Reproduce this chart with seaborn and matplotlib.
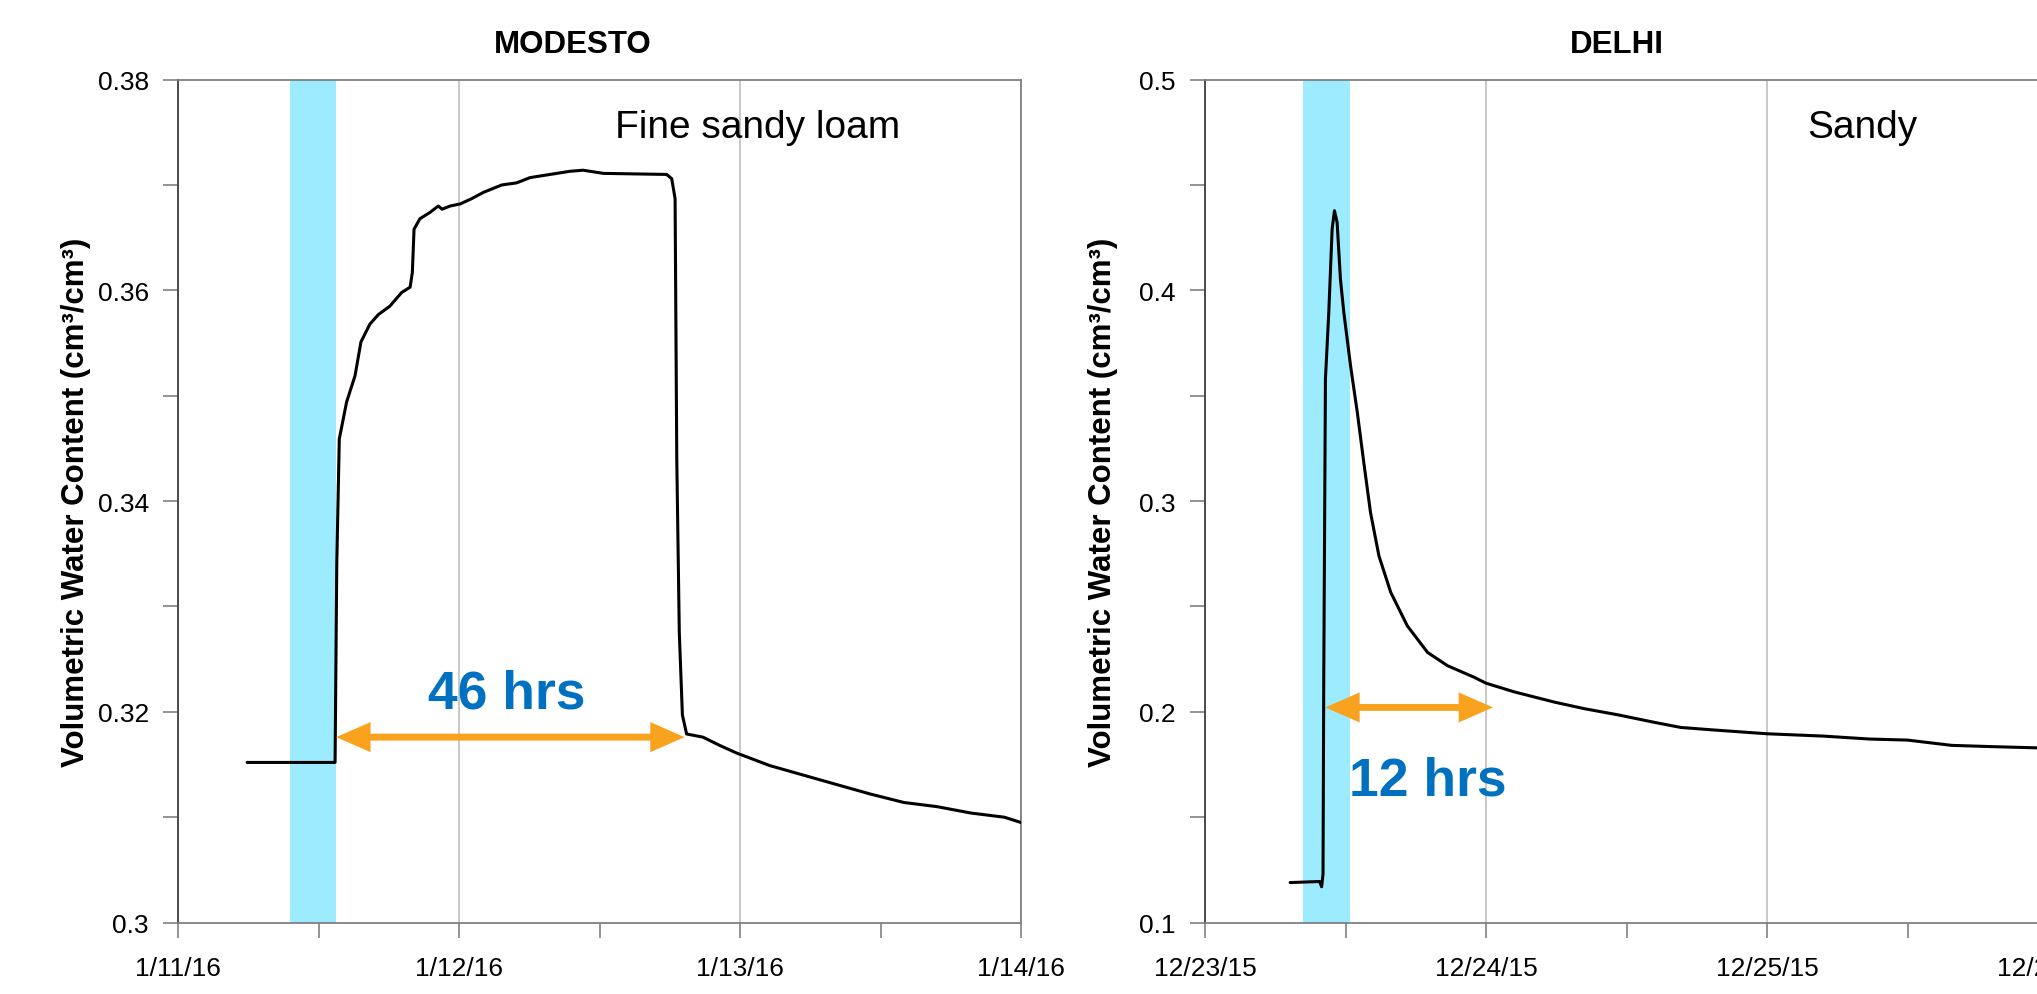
import numpy as np
import pandas as pd
import seaborn as sns
import matplotlib.pyplot as plt

# Modesto (fine sandy loam): days since 1/11/16 00:00 and VWC
modesto_day = [0.246, 0.400, 0.559, 0.565, 0.574, 0.600, 0.630, 0.651, 0.683, 0.713,
               0.754, 0.796, 0.826, 0.834, 0.840, 0.861, 0.897, 0.926, 0.940, 0.968,
               1.004, 1.045, 1.087, 1.152, 1.205, 1.253, 1.324, 1.395, 1.442, 1.514,
               1.739, 1.757, 1.769, 1.775, 1.784, 1.795, 1.810, 1.868, 1.929, 1.987,
               2.106, 2.225, 2.344, 2.464, 2.583, 2.702, 2.821, 2.941, 3.000]
modesto_vwc = [0.3152, 0.3152, 0.3152, 0.3340, 0.3459, 0.3494, 0.3519, 0.3551, 0.3568, 0.3577,
               0.3585, 0.3598, 0.3603, 0.3617, 0.3658, 0.3668, 0.3674, 0.3680, 0.3677, 0.3680,
               0.3682, 0.3687, 0.3693, 0.3700, 0.3702, 0.3707, 0.3710, 0.3713, 0.3714, 0.3711,
               0.3710, 0.3706, 0.3687, 0.3440, 0.3275, 0.3197, 0.3179, 0.3176, 0.3168, 0.3161,
               0.3149, 0.3140, 0.3131, 0.3122, 0.3114, 0.3110, 0.3104, 0.3100, 0.3095]

# Delhi (sandy): days since 12/23/15 00:00 and VWC
delhi_day = [0.303, 0.408, 0.415, 0.420, 0.4226, 0.4286, 0.4405, 0.4524, 0.4607, 0.4702,
             0.482, 0.494, 0.518, 0.542, 0.565, 0.589, 0.619, 0.661, 0.720, 0.792,
             0.863, 0.958, 1.000, 1.100, 1.244, 1.350, 1.469, 1.600, 1.693, 1.800,
             2.000, 2.200, 2.365, 2.500, 2.657, 2.800, 2.966, 3.000]
delhi_vwc = [0.119, 0.1195, 0.117, 0.123, 0.2155, 0.3579, 0.3895, 0.4291, 0.4378, 0.4322,
             0.4053, 0.3895, 0.3642, 0.3421, 0.3184, 0.2946, 0.2740, 0.2567, 0.2408, 0.2282,
             0.2219, 0.2164, 0.2136, 0.2095, 0.2046, 0.2015, 0.1986, 0.1950, 0.1926, 0.1915,
             0.1896, 0.1885, 0.1871, 0.1866, 0.1841, 0.1835, 0.1829, 0.1828]

modesto_xlabels = ["1/11/16", "1/12/16", "1/13/16", "1/14/16"]
delhi_xlabels = ["12/23/15", "12/24/15", "12/25/15", "12/26/15"]
modesto_yticks = [0.30, 0.32, 0.34, 0.36, 0.38]
modesto_ylabels = ["0.3", "0.32", "0.34", "0.36", "0.38"]
delhi_yticks = [0.1, 0.2, 0.3, 0.4, 0.5]
delhi_ylabels = ["0.1", "0.2", "0.3", "0.4", "0.5"]

# irrigation window (start day, end day)
modesto_irrig = (0.397, 0.563)
delhi_irrig = (0.349, 0.517)
# drainage arrow (start day, end day, vwc), label (x, baseline y, text)
modesto_arrow = (0.563, 1.803, 0.3176)
delhi_arrow = (0.428, 1.025, 0.2021)
modesto_hrs = (1.170, 0.3204, "46 hrs")
delhi_hrs = (0.793, 0.161, "12 hrs")

sns.set_theme(style="white")
plt.rcParams['font.family'] = ['Liberation Sans', 'DejaVu Sans']
plt.rcParams['text.color'] = 'black'
plt.rcParams['axes.labelcolor'] = 'black'

fig = plt.figure(figsize=(20.37, 9.95), dpi=100)
W, H = 2037, 995
ax1 = fig.add_axes([178 / W, 1 - 923.6 / H, 843 / W, 843 / H])
ax2 = fig.add_axes([1205 / W, 1 - 923.6 / H, 843 / W, 843 / H])

band = '#9DEBFF'
orange = '#F8A21E'
blue = '#0070C0'

panels = [
    (ax1, modesto_day, modesto_vwc, modesto_xlabels, modesto_yticks, modesto_ylabels,
     (0.30, 0.38), 0.01, modesto_irrig, modesto_arrow, modesto_hrs, "Fine sandy loam", 0.518),
    (ax2, delhi_day, delhi_vwc, delhi_xlabels, delhi_yticks, delhi_ylabels,
     (0.1, 0.5), 0.05, delhi_irrig, delhi_arrow, delhi_hrs, "Sandy", 0.715),
]

for (ax, xd, yd, xl, yt, yl, ylim, yminor, irrig, arrow, hrs, soil, soil_x) in panels:
    ax.axvspan(irrig[0], irrig[1], color=band, lw=0, zorder=1)
    sns.lineplot(x=xd, y=yd, ax=ax, color='black', lw=2.2, sort=False,
                 estimator=None, zorder=3)
    ax.set_xlim(0, 3)
    ax.set_ylim(*ylim)
    ax.set_xticks([0, 1, 2, 3], xl)
    ax.set_xticks([0.5, 1.5, 2.5], minor=True)
    ax.set_yticks(yt, yl)
    ax.set_yticks(np.arange(ylim[0], ylim[1] + 1e-9, yminor), minor=True)
    ax.grid(axis='x', which='major', color='#C4C4C4', lw=1.3, zorder=0)
    ax.grid(axis='y', visible=False)
    ax.set_axisbelow(True)
    ax.tick_params(which='both', direction='out', length=11, width=1.2,
                   color='#808080', labelsize=19, labelcolor='black', pad=10)
    ax.tick_params(axis='x', which='both', bottom=True, pad=13)
    ax.tick_params(axis='y', which='both', left=True)
    for s in ax.spines.values():
        s.set_color('#808080')
        s.set_linewidth(1.3)
    ax.spines['left'].set_color('#404040')
    ax.set_xlabel('')
    ax.set_ylabel('Volumetric Water Content (cm\u00b3/cm\u00b3)', fontsize=22.5,
                  fontweight='bold', color='black')
    ax.yaxis.set_label_coords(-0.103, 0.5)

    ax.annotate('', xy=(arrow[1], arrow[2]), xytext=(arrow[0], arrow[2]),
                arrowprops=dict(arrowstyle='<|-|>,head_length=1.6,head_width=0.7',
                                color=orange, lw=5, mutation_scale=10,
                                joinstyle='miter', capstyle='butt',
                                shrinkA=0, shrinkB=0), zorder=4)
    ax.text(hrs[0], hrs[1], hrs[2], color=blue, fontsize=38.5, fontweight='bold',
            ha='center', va='baseline', zorder=5)
    ax.text(soil_x, 0.9314, soil, transform=ax.transAxes, fontsize=28,
            color='black', ha='left', va='baseline', zorder=5)

fig.text(572.5 / W, 1 - 53.3 / H, "MODESTO", fontsize=22.5, fontweight='bold',
         color='black', ha='center', va='baseline')
fig.text(1617 / W, 1 - 53.3 / H, "DELHI", fontsize=22.5, fontweight='bold',
         color='black', ha='center', va='baseline')

fig.savefig('out.png', dpi=100, facecolor='white')
